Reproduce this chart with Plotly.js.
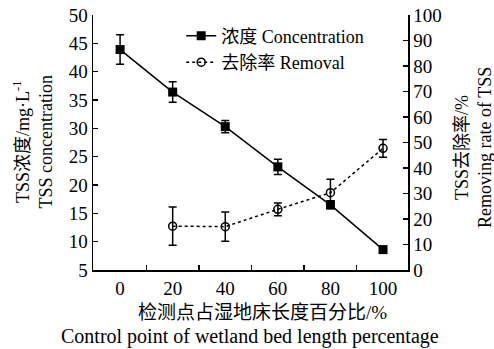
<!DOCTYPE html>
<html><head><meta charset="utf-8">
<script src="https://cdn.plot.ly/plotly-3.0.1.min.js"></script>
<style>body{margin:0;background:#fff}#c{width:494px;height:349px}</style>
</head><body><div id="c"></div>
<script>
const positions = [0, 20, 40, 60, 80, 100];
const concentration = [43.9, 36.4, 30.3, 23.2, 16.5, 8.6];
const concentrationErr = [2.6, 1.8, 1.1, 1.35, 0.7, 0.4];
const removalPos = [20, 40, 60, 80, 100];
const removal = [17.2, 17.0, 23.8, 30.3, 47.7];
const removalErr = [7.5, 5.7, 2.5, 5.3, 3.5];
const xTickLabels = ['0', '20', '40', '60', '80', '100'];
const xMinorTicks = [10, 30, 50, 70, 90];
const xTitleCn = '检测点占湿地床长度百分比/%';
const xTitleEn = 'Control point of wetland bed length percentage';
const yTitle = 'TSS浓度/mg·L<sup>-1</sup><br>TSS concentration';
const y2Title = 'TSS去除率/%<br>Removing rate of TSS';

const serif = '"Liberation Serif", "Times New Roman", "Noto Sans CJK SC", serif';
const traces = [
  {x: positions, y: concentration, name: '浓度 Concentration', type: 'scatter', mode: 'lines+markers',
   line: {color: '#000', width: 1.5}, marker: {symbol: 'square', size: 9, color: '#000'},
   error_y: {type: 'data', array: concentrationErr, visible: true, color: '#000', thickness: 1.5, width: 4}},
  {x: removalPos, y: removal, name: '去除率 Removal', type: 'scatter', mode: 'lines+markers', yaxis: 'y2',
   line: {color: '#000', width: 1.5, dash: 'dot'}, marker: {symbol: 'circle-open', size: 8, color: '#000', line: {width: 1.5}},
   error_y: {type: 'data', array: removalErr, visible: true, color: '#000', thickness: 1.5, width: 4}}
];
const L = 93, R = 408, T = 15, B = 270;
const px = v => (v - L) / (R - L);
const py = v => (B - v) / (B - T);
const layout = {
  width: 494, height: 349, margin: {l: L, r: 494 - R, t: T, b: 349 - B},
  paper_bgcolor: '#fff', plot_bgcolor: '#fff',
  font: {family: serif, size: 18, color: '#000'},
  showlegend: true,
  legend: {x: 0.28, y: 0.99, xanchor: 'left', yanchor: 'top', bgcolor: 'rgba(0,0,0,0)',
           font: {family: serif, size: 18}, tracegroupgap: 0, itemwidth: 30},
  xaxis: {range: [-10.3, 109.5], tickvals: positions, ticktext: xTickLabels, ticks: '',
          showline: true, linecolor: '#000', linewidth: 1.5, showgrid: false, zeroline: false,
          tickfont: {family: serif, size: 19}, ticklabelstandoff: 1,
          minor: {tickvals: xMinorTicks, ticks: 'inside', ticklen: 5, tickcolor: '#000', tickwidth: 1.5}},
  yaxis: {range: [5, 50], dtick: 5, ticks: 'inside', ticklen: 5, tickwidth: 1.5, tickcolor: '#000',
          showline: true, linecolor: '#000', linewidth: 1.5, showgrid: false, zeroline: false,
          tickfont: {family: serif, size: 19}},
  yaxis2: {range: [0, 100], dtick: 10, overlaying: 'y', side: 'right', ticks: 'inside', ticklen: 5, tickwidth: 1.5,
           tickcolor: '#000', showline: true, linecolor: '#000', linewidth: 1.5, showgrid: false, zeroline: false,
           tickfont: {family: serif, size: 19}},
  annotations: [
    {text: xTitleCn, xref: 'paper', yref: 'paper', x: px(262), y: py(312), xanchor: 'center', yanchor: 'middle',
     showarrow: false, font: {family: serif, size: 19}},
    {text: xTitleEn, xref: 'paper', yref: 'paper', x: px(250), y: py(336), xanchor: 'center', yanchor: 'middle',
     showarrow: false, font: {family: serif, size: 20}},
    {text: yTitle, xref: 'paper', yref: 'paper', x: px(33.5), y: py(142), xanchor: 'center', yanchor: 'middle',
     textangle: -90, showarrow: false, font: {family: serif, size: 18}},
    {text: y2Title, xref: 'paper', yref: 'paper', x: px(474), y: py(148), xanchor: 'center', yanchor: 'middle',
     textangle: -90, showarrow: false, font: {family: serif, size: 18}}
  ]
};
Plotly.newPlot('c', traces, layout, {displayModeBar: false, staticPlot: true});
</script></body></html>
